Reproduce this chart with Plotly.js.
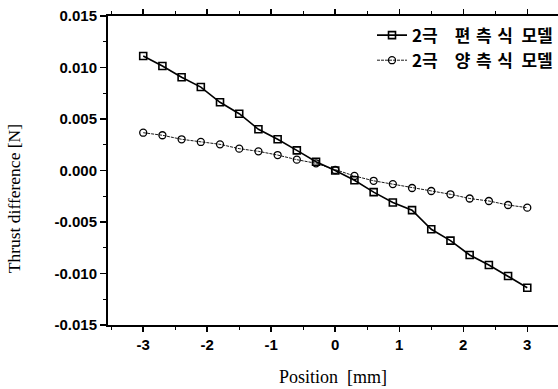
<!DOCTYPE html>
<html>
<head>
<meta charset="utf-8">
<script src="https://cdn.plot.ly/plotly-3.0.1.min.js"></script>
<style>html,body{margin:0;padding:0;background:#fff;}#chart{width:558px;height:389px;}</style>
</head>
<body>
<div id="chart"></div>
<script>
var positions = [-3.0,-2.7,-2.4,-2.1,-1.8,-1.5,-1.2,-0.9,-0.6,-0.3,0.0,0.3,0.6,0.9,1.2,1.5,1.8,2.1,2.4,2.7,3.0];
var oneSided = [0.01112,0.01015,0.00905,0.00810,0.00662,0.00551,0.00400,0.00303,0.00195,0.00085,0.00000,-0.00095,-0.00210,-0.00310,-0.00385,-0.00571,-0.00681,-0.00820,-0.00917,-0.01024,-0.01138];
var twoSided = [0.00367,0.00342,0.00303,0.00277,0.00254,0.00212,0.00186,0.00150,0.00105,0.00070,0.00005,-0.00053,-0.00100,-0.00132,-0.00170,-0.00199,-0.00231,-0.00272,-0.00296,-0.00335,-0.00361];
var seriesNames = ["2극\u2003편\u2004측\u2004식\u2002모델", "2극\u2003양\u2004측\u2004식\u2002모델"];
var xTickVals = [-3,-2,-1,0,1,2,3];
var xTickText = ['-3','-2','-1','0','1','2','3'];
var yTickVals = [-0.015,-0.010,-0.005,0,0.005,0.010,0.015];
var yTickText = ['-0.015','-0.010','-0.005','0.000','0.005','0.010','0.015'];
var xTitle = 'Position\u00A0\u00A0[mm]';
var yTitle = 'Thrust difference [N]';

var traces = [
  {x: positions, y: oneSided, name: seriesNames[0], type: 'scatter', mode: 'lines+markers',
   line: {color: '#000', width: 1.6},
   marker: {symbol: 'square-open', size: 7, color: '#000', line: {width: 1.6, color: '#000'}}},
  {x: positions, y: twoSided, name: seriesNames[1], type: 'scatter', mode: 'lines+markers',
   line: {color: '#000', width: 0.9, dash: '3px,1px'},
   marker: {symbol: 'circle-open', size: 7, color: '#000', line: {width: 1.3, color: '#000'}}}
];

var layout = {
  width: 558, height: 389,
  margin: {l: 108, r: 0, t: 16, b: 64},
  paper_bgcolor: '#fff', plot_bgcolor: '#fff',
  showlegend: true,
  legend: {x: 1, xanchor: 'right', y: 0.995, yanchor: 'top', bgcolor: 'rgba(0,0,0,0)',
    font: {family: 'Noto Sans CJK KR', size: 17, color: '#000', weight: 'bold'}, tracegroupgap: 0, itemwidth: 30},
  xaxis: {
    range: [-3.55, 3.48], tickvals: xTickVals, ticktext: xTickText,
    showgrid: false, zeroline: false, showline: true, linecolor: '#000', linewidth: 2,
    mirror: 'ticks', ticks: 'outside', ticklen: 5, tickwidth: 1.5, tickcolor: '#000',
    minor: {tickvals: [-3.5,-2.5,-1.5,-0.5,0.5,1.5,2.5], ticks: 'outside', ticklen: 3, tickwidth: 1, tickcolor: '#000'},
    tickfont: {family: 'Liberation Sans', size: 15, color: '#000', weight: 'bold'},
    title: {text: xTitle, font: {family: 'Liberation Serif', size: 18, color: '#000'}, standoff: 18}
  },
  yaxis: {
    range: [-0.015, 0.015], tickvals: yTickVals, ticktext: yTickText,
    showgrid: false, zeroline: false, showline: true, linecolor: '#000', linewidth: 2,
    mirror: false, ticks: 'outside', ticklen: 6, tickwidth: 1.5, tickcolor: '#000',
    minor: {tickvals: [-0.0125,-0.0075,-0.0025,0.0025,0.0075,0.0125], ticks: 'outside', ticklen: 3, tickwidth: 1, tickcolor: '#000'},
    tickfont: {family: 'Liberation Sans', size: 15, color: '#000', weight: 'bold'}
  },
  annotations: [
    {text: yTitle, xref: 'paper', yref: 'paper', x: -0.209, y: 0.41, xanchor: 'center', yanchor: 'middle',
     textangle: -90, showarrow: false, font: {family: 'Liberation Serif', size: 17.5, color: '#000'}}
  ]
};

Plotly.newPlot('chart', traces, layout, {displayModeBar: false, staticPlot: true});
</script>
</body>
</html>
